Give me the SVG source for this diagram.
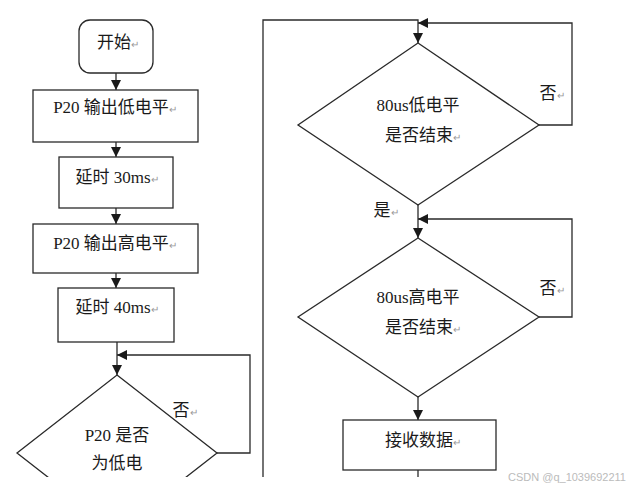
<svg xmlns="http://www.w3.org/2000/svg" width="639" height="487" viewBox="0 0 639 487">
<style>
.shape{fill:#fff;stroke:#2a2a2a;stroke-width:1.3}
.conn{fill:none;stroke:#2a2a2a;stroke-width:1.3}
.t{font-family:"Liberation Serif","Noto Sans CJK SC",serif;font-size:17px;fill:#1a1a1a;text-anchor:middle}
.pm{font-size:10px;fill:#999}
.wm{font-family:"Liberation Sans","DejaVu Sans",sans-serif;font-size:11px;fill:#bbb}
</style>
<defs>
<marker id="ah" markerUnits="userSpaceOnUse" markerWidth="10" markerHeight="10" refX="10" refY="5" orient="auto">
<path d="M0,0 L10,5 L0,10 z" fill="#1a1a1a"/>
</marker>
<clipPath id="cut"><rect x="0" y="0" width="639" height="477"/></clipPath>
</defs>
<rect width="639" height="487" fill="#fff"/>
<g clip-path="url(#cut)">
<g id="connectors">
<line class="conn" x1="116" y1="73" x2="116" y2="90" marker-end="url(#ah)"/>
<line class="conn" x1="116" y1="142" x2="116" y2="157" marker-end="url(#ah)"/>
<line class="conn" x1="116" y1="208" x2="116" y2="224" marker-end="url(#ah)"/>
<line class="conn" x1="116" y1="273" x2="116" y2="288" marker-end="url(#ah)"/>
<line class="conn" x1="117" y1="342" x2="117" y2="375" marker-end="url(#ah)"/>
<polyline class="conn" points="217,453 250,453 250,355 117,355" marker-end="url(#ah)"/>
<polyline class="conn" points="263,480 263,20 418,20 418,43" marker-end="url(#ah)"/>
<polyline class="conn" points="539,125 572,125 572,23 418,23" marker-end="url(#ah)"/>
<line class="conn" x1="418" y1="205" x2="418" y2="238" marker-end="url(#ah)"/>
<polyline class="conn" points="539,317 572,317 572,219 418,219" marker-end="url(#ah)"/>
<line class="conn" x1="418" y1="397" x2="418" y2="420" marker-end="url(#ah)"/>
<line class="conn" x1="418" y1="470" x2="418" y2="480"/>
<text class="t" x="185" y="416">否<tspan class="pm">↵</tspan></text>
<text class="t" x="552" y="99">否<tspan class="pm">↵</tspan></text>
<text class="t" x="386" y="216">是<tspan class="pm">↵</tspan></text>
<text class="t" x="552" y="294">否<tspan class="pm">↵</tspan></text>
</g>
<g id="start">
<rect class="shape" x="79" y="20" width="74" height="53" rx="11"/>
<text class="t" x="118" y="48">开始<tspan class="pm">↵</tspan></text>
</g>
<g id="p20low">
<rect class="shape" x="33" y="90" width="165" height="52"/>
<text class="t" x="115" y="113">P20 输出低电平<tspan class="pm">↵</tspan></text>
</g>
<g id="delay30">
<rect class="shape" x="59" y="157" width="114" height="51"/>
<text class="t" x="117" y="183">延时 30ms<tspan class="pm">↵</tspan></text>
</g>
<g id="p20high">
<rect class="shape" x="33" y="224" width="165" height="49"/>
<text class="t" x="115" y="249">P20 输出高电平<tspan class="pm">↵</tspan></text>
</g>
<g id="delay40">
<rect class="shape" x="58" y="288" width="116" height="54"/>
<text class="t" x="117" y="313">延时 40ms<tspan class="pm">↵</tspan></text>
</g>
<g id="p20check">
<polygon class="shape" points="117,375 217,453 117,531 17,453"/>
<text class="t" x="117" y="441">P20 是否</text>
<text class="t" x="117" y="469">为低电</text>
</g>
<g id="low80">
<polygon class="shape" points="418,43 539,125 418,205 298,125"/>
<text class="t" x="418" y="111">80us低电平</text>
<text class="t" x="423" y="141">是否结束<tspan class="pm">↵</tspan></text>
</g>
<g id="high80">
<polygon class="shape" points="418,238 539,317 418,397 298,317"/>
<text class="t" x="418" y="303">80us高电平</text>
<text class="t" x="423" y="333">是否结束<tspan class="pm">↵</tspan></text>
</g>
<g id="receive">
<rect class="shape" x="343" y="420" width="153" height="50"/>
<text class="t" x="423" y="446">接收数据<tspan class="pm">↵</tspan></text>
</g>
</g>
<text class="wm" x="508" y="481">CSDN @q_1039692211</text>
</svg>
